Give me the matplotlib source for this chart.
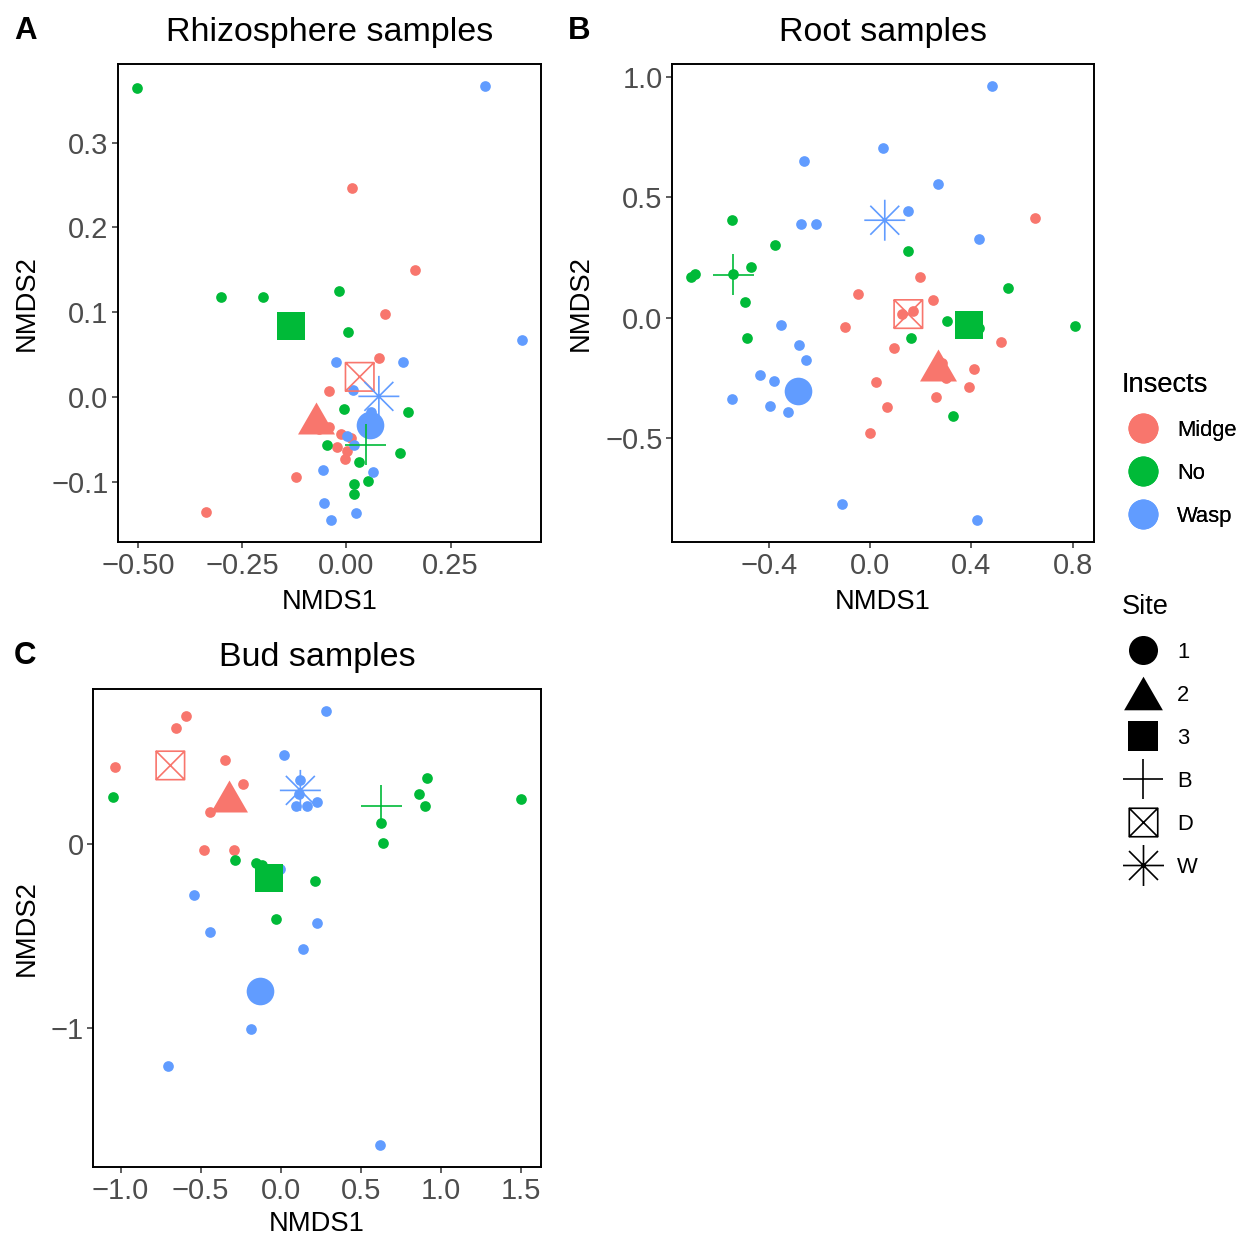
import numpy as np
import matplotlib
matplotlib.use("Agg")
import matplotlib.pyplot as plt
from matplotlib.path import Path
from matplotlib.lines import Line2D
from matplotlib.ticker import FuncFormatter

plt.rcParams['font.family'] = ['Liberation Sans', 'DejaVu Sans']

# insect colours (ggplot hue palette)
insects = ["Midge", "No", "Wasp"]
colors = {"Midge": "#F8766D", "No": "#00BA38", "Wasp": "#619CFF"}
sites = ["1", "2", "3", "B", "D", "W"]
site_insect = ["Wasp", "Midge", "No", "No", "Midge", "Wasp"]

# ---- Rhizosphere samples: sample scores ----
rhizo_midge_x = [0.013, 0.165, 0.093, 0.078, -0.042, -0.066, -0.042, -0.013, 0.012, -0.023, 0.002, -0.004, -0.122, -0.338]
rhizo_midge_y = [0.247, 0.150, 0.098, 0.046, 0.007, -0.038, -0.035, -0.043, -0.048, -0.059, -0.063, -0.073, -0.094, -0.135]
rhizo_no_x = [-0.502, -0.300, -0.200, -0.018, 0.005, -0.005, 0.149, -0.047, 0.030, 0.129, 0.018, 0.018, 0.051]
rhizo_no_y = [0.364, 0.118, 0.118, 0.125, 0.077, -0.014, -0.018, -0.056, -0.076, -0.066, -0.102, -0.114, -0.099]
rhizo_wasp_x = [0.333, 0.421, -0.026, 0.135, 0.017, 0.060, 0.002, 0.019, -0.055, 0.064, -0.054, -0.037, 0.022]
rhizo_wasp_y = [0.367, 0.067, 0.041, 0.042, 0.009, -0.017, -0.046, -0.056, -0.086, -0.088, -0.125, -0.145, -0.137]
# site centroids, order = sites
rhizo_site_x = [0.056, -0.072, -0.133, 0.046, 0.032, 0.078]
rhizo_site_y = [-0.033, -0.024, 0.084, -0.056, 0.024, 0.001]

# ---- Root samples ----
root_midge_x = [0.652, 0.198, -0.049, 0.247, 0.125, 0.169, -0.097, 0.515, 0.093, 0.285, 0.300, 0.412, 0.025, 0.392, 0.262, 0.068, 0.001]
root_midge_y = [0.416, 0.171, 0.097, 0.075, 0.015, 0.029, -0.037, -0.102, -0.126, -0.189, -0.252, -0.212, -0.268, -0.290, -0.328, -0.372, -0.480]
root_no_x = [-0.543, -0.374, -0.471, -0.706, -0.692, -0.539, -0.494, -0.485, 0.150, 0.543, 0.303, 0.429, 0.161, 0.327, 0.808]
root_no_y = [0.404, 0.301, 0.209, 0.167, 0.180, 0.182, 0.065, -0.086, 0.277, 0.123, -0.012, -0.044, -0.086, -0.409, -0.033]
root_wasp_x = [0.480, 0.051, -0.262, 0.270, 0.148, -0.274, -0.214, 0.429, -0.351, -0.282, -0.253, -0.434, -0.380, -0.546, -0.395, -0.325, -0.109, 0.420]
root_wasp_y = [0.964, 0.704, 0.651, 0.557, 0.445, 0.391, 0.388, 0.326, -0.030, -0.115, -0.176, -0.238, -0.263, -0.339, -0.369, -0.391, -0.774, -0.842]
root_site_x = [-0.285, 0.268, 0.390, -0.539, 0.151, 0.058]
root_site_y = [-0.304, -0.198, -0.032, 0.178, 0.015, 0.405]

# ---- Bud samples ----
bud_midge_x = [-0.591, -0.654, -1.035, -0.346, -0.235, -0.441, -0.481, -0.294]
bud_midge_y = [0.699, 0.630, 0.418, 0.460, 0.328, 0.172, -0.034, -0.033]
bud_no_x = [-1.045, 0.914, 0.864, 0.903, 1.499, 0.624, 0.637, -0.283, -0.156, -0.117, 0.216, -0.027]
bud_no_y = [0.255, 0.360, 0.275, 0.205, 0.245, 0.114, 0.005, -0.089, -0.101, -0.116, -0.203, -0.409]
bud_wasp_x = [0.281, 0.021, 0.119, 0.114, 0.098, 0.167, 0.225, -0.006, -0.543, -0.439, 0.225, 0.139, -0.185, -0.706, 0.620]
bud_wasp_y = [0.726, 0.486, 0.346, 0.274, 0.208, 0.207, 0.230, -0.134, -0.279, -0.480, -0.428, -0.572, -1.007, -1.207, -1.641]
bud_site_x = [-0.127, -0.323, -0.073, 0.629, -0.689, 0.123]
bud_site_y = [-0.801, 0.259, -0.183, 0.208, 0.428, 0.292]

# marker shapes for the sites
tri_path = Path([(-0.5, -0.433), (0.5, -0.433), (0.0, 0.433), (-0.5, -0.433)],
                [Path.MOVETO, Path.LINETO, Path.LINETO, Path.CLOSEPOLY])
boxx_path = Path([(-1, -1), (1, -1), (1, 1), (-1, 1), (-1, -1),
                  (-1, -1), (1, 1), (-1, 1), (1, -1)],
                 [Path.MOVETO, Path.LINETO, Path.LINETO, Path.LINETO, Path.CLOSEPOLY,
                  Path.MOVETO, Path.LINETO, Path.MOVETO, Path.LINETO])
d = 0.7071
star_path = Path([(0, -1), (0, 1), (-1, 0), (1, 0), (-d, -d), (d, d), (-d, d), (d, -d)],
                 [Path.MOVETO, Path.LINETO] * 4)
plus_path = Path([(0, -1), (0, 1), (-1, 0), (1, 0)], [Path.MOVETO, Path.LINETO] * 2)

# marker, size (pt), filled
site_style = {
    "1": ("o", 19.9, True),
    "2": (tri_path, 26.6, True),
    "3": ("s", 20.6, True),
    "B": (plus_path, 29.5, False),
    "D": (boxx_path, 20.5, False),
    "W": (star_path, 29.5, False),
}
LW = 1.2


def fmt(dec):
    return FuncFormatter(lambda v, p: f"{v:.{dec}f}".replace("-", "\u2212"))


def panel(ax, title, groups, site_x, site_y, xticks, yticks, xdec, ydec, xpad=6):
    allx, ally = [], []
    for name, gx, gy in groups:
        ax.scatter(gx, gy, s=7.7 ** 2, color=colors[name], linewidths=0, zorder=2)
        allx += gx
        ally += gy
    for s, ins, cx, cy in zip(sites, site_insect, site_x, site_y):
        m, size, filled = site_style[s]
        if filled:
            ax.scatter([cx], [cy], marker=m, s=size ** 2, color=colors[ins], linewidths=0, zorder=3)
        else:
            ax.scatter([cx], [cy], marker=m, s=size ** 2, facecolors="none",
                       edgecolors=colors[ins], linewidths=LW, zorder=3)
    allx += site_x
    ally += site_y
    xr = max(allx) - min(allx)
    yr = max(ally) - min(ally)
    ax.set_xlim(min(allx) - 0.05 * xr, max(allx) + 0.05 * xr)
    ax.set_ylim(min(ally) - 0.05 * yr, max(ally) + 0.05 * yr)
    ax.set_xticks(xticks)
    ax.set_yticks(yticks)
    ax.xaxis.set_major_formatter(fmt(xdec))
    ax.yaxis.set_major_formatter(fmt(ydec))
    ax.tick_params(length=4.3, width=1.1, color="#333333", labelsize=21,
                   labelcolor="#4D4D4D", pad=2.5)
    ax.tick_params(axis="x", pad=3.2)
    for sp in ax.spines.values():
        sp.set_linewidth(1.4)
        sp.set_color("black")
    ax.set_title(title, fontsize=24.5, pad=16.5)
    ax.set_xlabel("NMDS1", fontsize=19.7, labelpad=xpad)
    ax.set_ylabel("NMDS2", fontsize=19.7, labelpad=8)


W, H = 1241, 1237
fig = plt.figure(figsize=(W / 100, H / 100), dpi=100)
axA = fig.add_axes([118 / W, 1 - 542 / H, 423 / W, 478 / H])
axB = fig.add_axes([672 / W, 1 - 542 / H, 422 / W, 478 / H])
axC = fig.add_axes([93 / W, 1 - 1167 / H, 448 / W, 478 / H])

panel(axA, "Rhizosphere samples",
      [("Midge", rhizo_midge_x, rhizo_midge_y), ("No", rhizo_no_x, rhizo_no_y),
       ("Wasp", rhizo_wasp_x, rhizo_wasp_y)],
      rhizo_site_x, rhizo_site_y, [-0.5, -0.25, 0, 0.25], [-0.1, 0, 0.1, 0.2, 0.3], 2, 1)
panel(axB, "Root samples",
      [("Midge", root_midge_x, root_midge_y), ("No", root_no_x, root_no_y),
       ("Wasp", root_wasp_x, root_wasp_y)],
      root_site_x, root_site_y, [-0.4, 0, 0.4, 0.8], [-0.5, 0, 0.5, 1.0], 1, 1)
panel(axC, "Bud samples",
      [("Midge", bud_midge_x, bud_midge_y), ("No", bud_no_x, bud_no_y),
       ("Wasp", bud_wasp_x, bud_wasp_y)],
      bud_site_x, bud_site_y, [-1, -0.5, 0, 0.5, 1, 1.5], [-1, 0], 1, 0, xpad=4)

# panel tags
for tag, x, y in [("A", 14, 31), ("B", 568, 31), ("C", 14, 656)]:
    fig.text(x / W, 1 - y / H, tag, fontsize=22.5, fontweight="bold", va="center", ha="left")

# legends
ins_handles = [Line2D([], [], marker="o", linestyle="none", markersize=21.6,
                      markerfacecolor=colors[k], markeredgewidth=0) for k in insects]
leg_kw = dict(loc="upper left", frameon=False, fontsize=15.8, title_fontsize=19.6,
              labelspacing=1.0, handlelength=1.91, handletextpad=0.6,
              borderpad=0, alignment="left")
leg1 = fig.legend(ins_handles, insects, title="Insects",
                  bbox_to_anchor=(1111 / W, 1 - 361 / H), **leg_kw)

site_handles = []
for s in sites:
    m, size, filled = site_style[s]
    if filled:
        h = Line2D([], [], marker=m, linestyle="none", markersize=size * 1.05,
                   markerfacecolor="black", markeredgewidth=0)
    else:
        h = Line2D([], [], marker=m, linestyle="none", markersize=size,
                   markerfacecolor="none", markeredgecolor="black", markeredgewidth=LW)
    site_handles.append(h)
leg2 = fig.legend(site_handles, sites, title="Site",
                  bbox_to_anchor=(1111 / W, 1 - 583 / H), **leg_kw)
fig.add_artist(leg1)

fig.savefig("out.png", dpi=100)
